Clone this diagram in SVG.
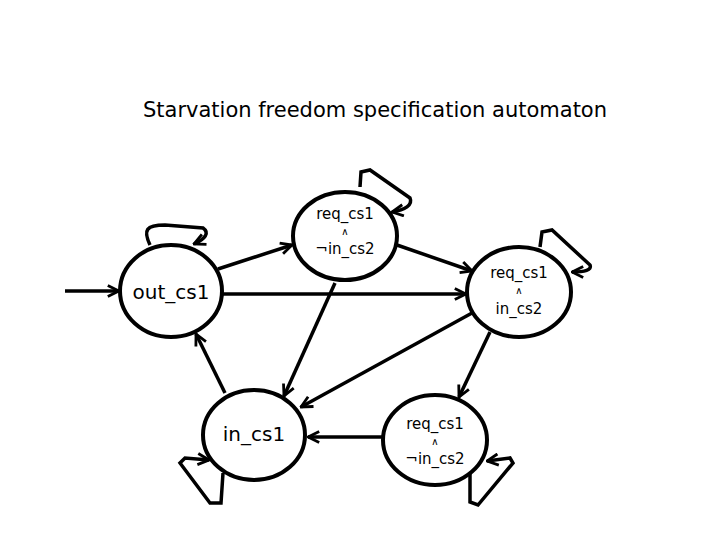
<svg xmlns="http://www.w3.org/2000/svg" width="720" height="540" viewBox="0 0 720 540">
<style>
.n{fill:#fff;stroke:#000;stroke-width:4}
.e{fill:none;stroke:#000;stroke-width:3.5;marker-end:url(#a)}
.t{font-family:"DejaVu Sans",sans-serif;fill:#000;text-anchor:middle}
.s{font-size:15px}
.w{font-size:10px}
.b{font-size:20px}
</style>
<defs>
<marker id="a" viewBox="0 0 10 10" refX="9" refY="5" markerWidth="4" markerHeight="4" orient="auto" markerUnits="strokeWidth">
<path d="M1,1 L9,5 L1,9" fill="none" stroke="#000" stroke-width="2"/>
</marker>
</defs>
<rect width="720" height="540" fill="#fff"/>
<text class="t" x="375" y="117" font-size="21">Starvation freedom specification automaton</text>
<g id="connectors">
<path class="e" d="M65,291 L119,291"/>
<path class="e" d="M218,269 L292,245"/>
<path class="e" d="M397,245 L472,271"/>
<path class="e" d="M222,294 L466,294"/>
<path class="e" d="M335,283 L284,396"/>
<path class="e" d="M472,313 L301,407"/>
<path class="e" d="M490,332 L459,397"/>
<path class="e" d="M383,437 L308,437"/>
<path class="e" d="M225,393 L196,334"/>
<path class="e" d="M150,245 C143,230 146,225 165,225 L203,228 C210,233 205,239 194,244"/>
<path class="e" d="M360,187 L361,172 L370,170 L410,198 C413,205 405,210 392,212"/>
<path class="e" d="M540,247 L542,232 L552,230 L590,265 C592,270 585,272 572,272"/>
<path class="e" d="M223,473 L221,503 L210,503 L180,463 L185,458 L209,460"/>
<path class="e" d="M470,470 L470,502 L478,505 L513,463 L510,458 L487,461"/>
</g>
<g id="out_cs1"><ellipse class="n" cx="171" cy="291" rx="51" ry="46"/><text class="t b" x="171" y="299">out_cs1</text></g>
<g id="req_top"><ellipse class="n" cx="345" cy="236" rx="52" ry="44"/><text class="t s" x="345" y="219">req_cs1</text><text class="t w" x="345" y="235">∧</text><text class="t s" x="345" y="254">¬in_cs2</text></g>
<g id="req_right"><ellipse class="n" cx="519" cy="292" rx="52" ry="45"/><text class="t s" x="519" y="278">req_cs1</text><text class="t w" x="519" y="294">∧</text><text class="t s" x="519" y="314">in_cs2</text></g>
<g id="in_cs1"><ellipse class="n" cx="254" cy="435" rx="51" ry="45"/><text class="t b" x="254" y="441">in_cs1</text></g>
<g id="req_bottom"><ellipse class="n" cx="435" cy="440" rx="52" ry="45"/><text class="t s" x="435" y="429">req_cs1</text><text class="t w" x="435" y="445">∧</text><text class="t s" x="435" y="464">¬in_cs2</text></g>
</svg>
